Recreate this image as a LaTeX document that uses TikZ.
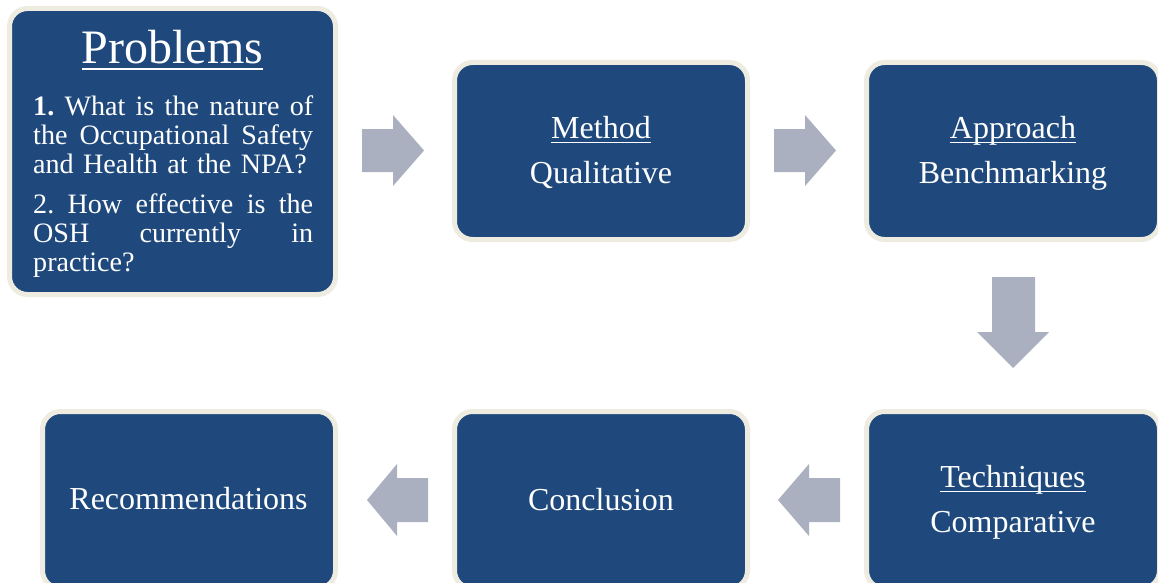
\documentclass[tikz,border=0pt]{standalone}
\usepackage{fontspec}
\setmainfont{Liberation Serif}
\definecolor{boxblue}{HTML}{1F497D}
\definecolor{boxrim}{HTML}{EEECE1}
\definecolor{arrowgray}{HTML}{AAB0BF}
\newcommand\ulx[1]{\setbox0\hbox{#1}\rlap{\rule[-0.145em]{\wd0}{0.045em}}\box0}
\newcommand\jline[1]{\leavevmode{\spaceskip=0.25em plus 1fil\relax\hbox to 280pt{#1}}}
\frenchspacing
\begin{document}
\begin{tikzpicture}[x=1pt,y=-1pt,
  panel/.style={draw=boxrim, line width=5pt, fill=boxblue, rounded corners=18pt,
    minimum width=293pt, minimum height=177pt, inner sep=0pt},
  lbl/.style={text=white, font=\fontsize{32}{36}\selectfont, anchor=base, inner sep=0pt},
  para/.style={text=white, anchor=base west, text width=280pt, align=left, inner sep=0pt,
    font=\fontsize{28.1}{29}\selectfont},
  blockarrow/.style={fill=arrowgray, draw=none}]
\useasboundingbox (0,0) rectangle (1158,583);
\clip (0,0) rectangle (1158,583);
\fill[white] (0,0) rectangle (1158,583);

% panels
\node[panel, minimum width=326pt, minimum height=286pt] (problems) at (172.5,151.5) {};
\node[panel] (method) at (601,151) {};
\node[panel] (approach) at (1013,151) {};
\node[panel] (techniques) at (1013,500) {};
\node[panel] (conclusion) at (601,500) {};
\node[panel] (recommend) at (189,500) {};

% texts
\node[lbl, font=\fontsize{48}{52}\selectfont] (ptitle) at (172.5,63.5) {\ulx{Problems}};
\node[para] (pbodya) at (33,115.5)
  {\jline{\textbf{1.} What is the nature of}\\
   \jline{the Occupational Safety}\\
   and Health at the NPA?};
\node[para] (pbodyb) at (33,213.5)
  {\jline{2. How effective is the}\\
   \jline{OSH currently in}\\
   practice?};

\node[lbl] (methodhead) at (601,138.5) {\ulx{Method}};
\node[lbl] (methodsub) at (601,183.5) {Qualitative};
\node[lbl] (approachhead) at (1013,138.5) {\ulx{Approach}};
\node[lbl] (approachsub) at (1013,183.5) {Benchmarking};
\node[lbl] (techhead) at (1013,487.5) {\ulx{Techniques}};
\node[lbl] (techsub) at (1013,532.5) {Comparative};
\node[lbl] (conctext) at (601,510) {Conclusion};
\node[lbl] (rectext) at (188.5,509.5) {Recommendations};

% block arrows
\fill[blockarrow] (362,129) -- (393,129) -- (393,115) -- (424,150.5) -- (393,186) -- (393,172) -- (362,172) -- cycle;
\fill[blockarrow] (774,129) -- (805,129) -- (805,115) -- (836,150.5) -- (805,186) -- (805,172) -- (774,172) -- cycle;
\fill[blockarrow] (992,277) -- (1035,277) -- (1035,332) -- (1049,332) -- (1013,368) -- (977,332) -- (992,332) -- cycle;
\fill[blockarrow] (840,478) -- (809,478) -- (809,464) -- (778,500) -- (809,536) -- (809,522) -- (840,522) -- cycle;
\fill[blockarrow] (428,478) -- (397,478) -- (397,464) -- (367,500) -- (397,536) -- (397,522) -- (428,522) -- cycle;
\end{tikzpicture}
\end{document}
